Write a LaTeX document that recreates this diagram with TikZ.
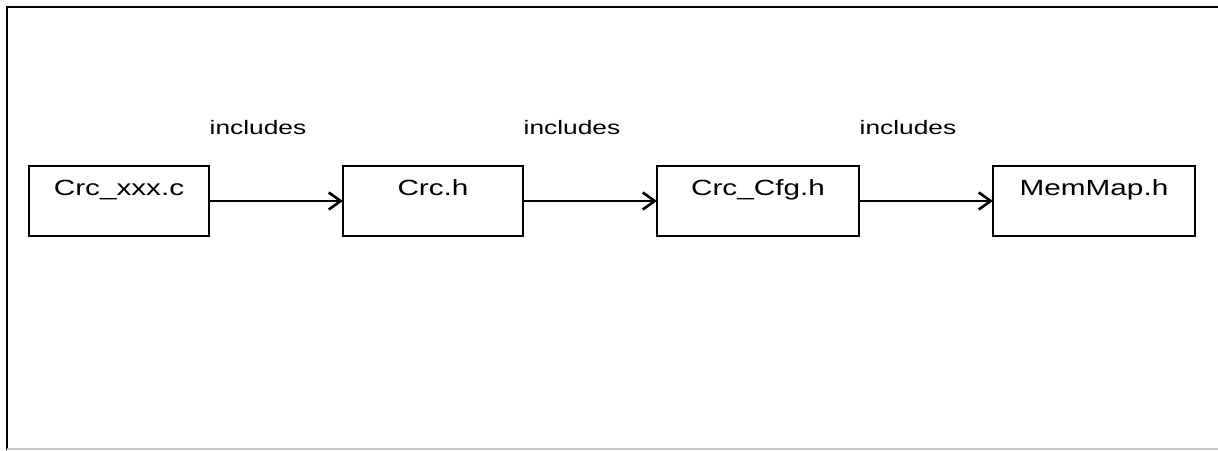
\documentclass[tikz,border=0pt]{standalone}
\usepackage{fontspec}
\setmainfont{Liberation Sans}
\newfontfamily\diagfont[FakeStretch=1.35]{Liberation Sans}
\usepackage{tikz}
\usetikzlibrary{arrows.meta, positioning}
\definecolor{FrameGray}{RGB}{200, 200, 200}

\begin{document}
\begin{tikzpicture}[
    x=1pt, y=1pt,
    filebox/.style={
      draw,
      line width=1.8pt,
      inner sep=0pt,
      outer sep=0pt,
      minimum width=180pt,
      text height=30pt,
      text depth=40pt,
      font=\diagfont\fontsize{22}{26}\selectfont
    },
    inclabel/.style={anchor=base, inner sep=0pt, font=\diagfont\fontsize{19.5}{23}\selectfont},
    incarrow/.style={line width=2.6pt, -{Straight Barb[length=12pt, width=17pt, line width=2.6pt]}}
  ]
  \useasboundingbox (0,0) rectangle (1218,450);
  % frame
  \draw[line width=2pt] (6.5,0) -- (6.5,442.5) -- (1218,442.5);
  \draw[FrameGray, line width=1.5pt] (6.5,1.2) -- (1218,1.2);

  % files
  \node[filebox] (crcxxx) at (119,249) {Crc\_xxx.c};
  \node[filebox, right=134pt of crcxxx] (crch) {Crc.h};
  \node[filebox, minimum width=202pt, right=134pt of crch] (crccfg) {Crc\_Cfg.h};
  \node[filebox, minimum width=202pt, right=134pt of crccfg] (memmap) {MemMap.h};

  % includes
  \draw[incarrow] (crcxxx) -- (crch);
  \draw[incarrow] (crch) -- (crccfg);
  \draw[incarrow] (crccfg) -- (memmap);
  \node[inclabel] (inc1) at ([xshift=49pt, yshift=66pt]crcxxx.east) {includes};
  \node[inclabel] (inc2) at ([xshift=49pt, yshift=66pt]crch.east) {includes};
  \node[inclabel] (inc3) at ([xshift=49pt, yshift=66pt]crccfg.east) {includes};
\end{tikzpicture}
\end{document}
